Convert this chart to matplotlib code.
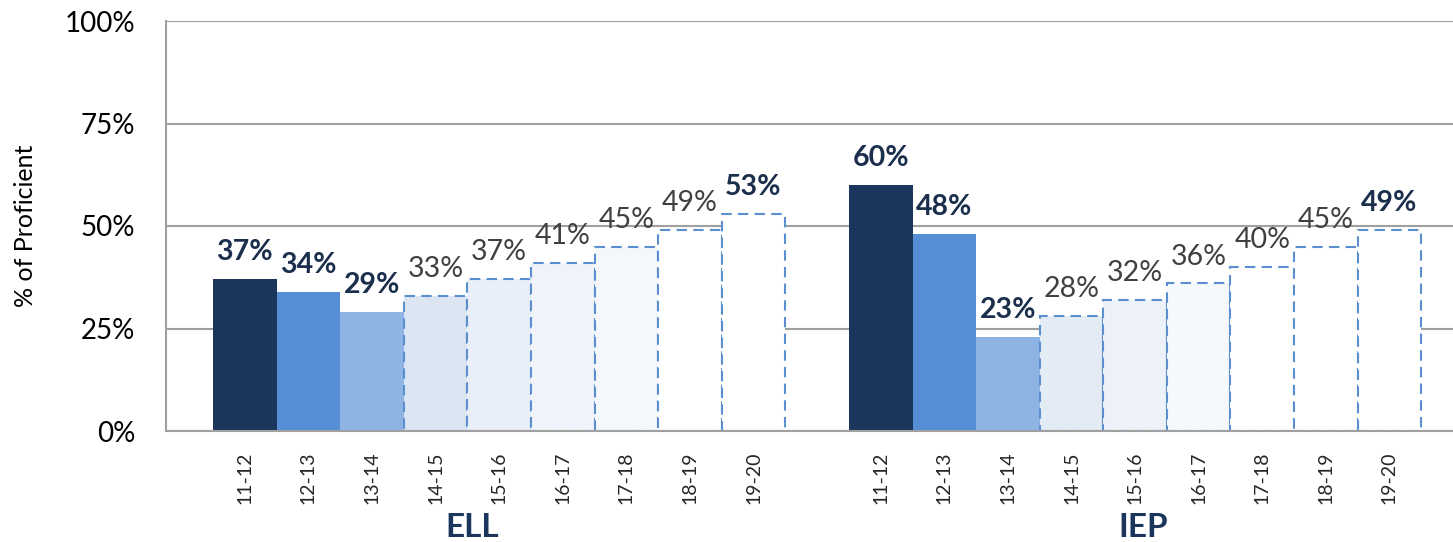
"""plot.py"""

import matplotlib.pyplot as plt
import matplotlib.transforms as mtransforms

years = ["11-12", "12-13", "13-14", "14-15", "15-16", "16-17", "17-18", "18-19", "19-20"]
groups = ["ELL", "IEP"]
ellVals = [37, 34, 29, 33, 37, 41, 45, 49, 53]
iepVals = [60, 48, 23, 28, 32, 36, 40, 45, 49]

ellColors = ["#1b365d", "#558ed5", "#8eb4e3", "#dce6f2", "#e9eff8", "#f0f4fa",
             "#f4f7fb", "#ffffff", "#ffffff"]
iepColors = ["#1b365d", "#558ed5", "#8eb4e3", "#e3ebf5", "#edf2f8", "#f5f8fc",
             "#ffffff", "#ffffff", "#ffffff"]
# which bars are projections (dashed outline) and which labels are bold
dashed = [False, False, False, True, True, True, True, True, True]
boldLbl = [True, True, True, False, False, False, False, False, True]

plt.rcParams['font.family'] = ['Lato', 'DejaVu Sans']

fig = plt.figure(figsize=(14.53, 5.42), dpi=100)
ax = fig.add_axes([166 / 1453, 1 - 431 / 542, 1 - 166 / 1453, 410 / 542])

gap = 10
positions = []
tickLabels = []
for g, (vals, cols) in enumerate([(ellVals, ellColors), (iepVals, iepColors)]):
    for i, v in enumerate(vals):
        x = g * gap + i
        positions.append(x)
        tickLabels.append(years[i])
        if dashed[i]:
            ax.bar(x, v, width=1.0, color=cols[i], edgecolor="#5b8fd0",
                   linewidth=1.5, linestyle=(0, (5, 3)), zorder=3)
        else:
            ax.bar(x, v, width=1.0, color=cols[i], linewidth=0, zorder=3)
        if boldLbl[i]:
            ax.annotate("{}%".format(v), (x, v), xytext=(0, 10), textcoords="offset points",
                        ha="center", va="bottom", fontsize=20.5, fontweight="bold",
                        color="#1b2f4d", zorder=4)
        else:
            ax.annotate("{}%".format(v), (x, v), xytext=(0, 10), textcoords="offset points",
                        ha="center", va="bottom", fontsize=20.5, color="#404040", zorder=4)

ax.set_xlim(-1.24, 19.0)
ax.set_ylim(0, 100)
ax.set_yticks([0, 25, 50, 75, 100])
ax.set_yticklabels(["0%", "25%", "50%", "75%", "100%"], fontsize=20, color="black")
ax.set_xticks(positions)
ax.set_xticklabels(tickLabels, rotation=90, fontsize=14, color="#262626")
ax.tick_params(axis="both", length=0)
ax.tick_params(axis="x", pad=15)
ax.tick_params(axis="y", pad=22)
ax.set_ylabel("% of Proficient", fontsize=18, labelpad=20)

ax.grid(axis="y", color="#a0a0a0", linewidth=1.5, zorder=0)
ax.set_axisbelow(True)
for s in ["top", "right"]:
    ax.spines[s].set_visible(False)
for s in ["left", "bottom"]:
    ax.spines[s].set_color("#a0a0a0")
    ax.spines[s].set_linewidth(1.5)
ax.spines["bottom"].set_zorder(5)

# group names sit a little off the group centres in the original
grpShift = [3.58, 4.13]
trans = mtransforms.blended_transform_factory(ax.transData, ax.transAxes)
for g, name in enumerate(groups):
    ax.text(g * gap + grpShift[g], -0.235, name, transform=trans, ha="center", va="center",
            fontsize=24, fontweight="bold", color="#1b365d")

fig.savefig("out.png", dpi=100)
